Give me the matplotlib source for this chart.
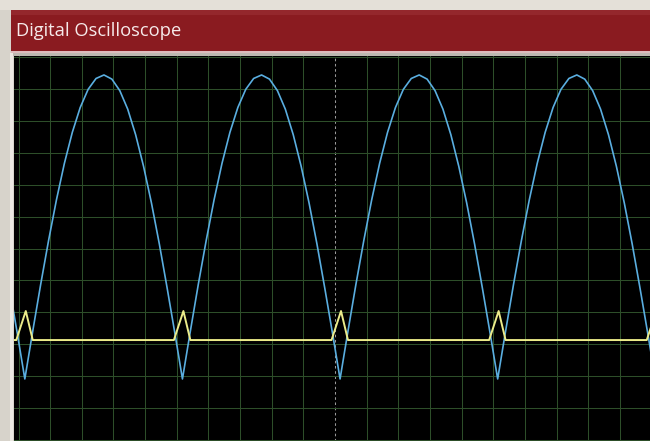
import numpy as np
import matplotlib
matplotlib.use('Agg')
import matplotlib.pyplot as plt
from matplotlib.patches import Rectangle

W, H = 650, 441

# screen units are scope divisions; 0 on x is the dashed centre line
TROUGH_T = [-14.78, -9.80, -4.82, 0.16, 5.14, 10.12]

# one cycle of the blue trace, offsets from each trough (div) and level (div)
BLUE_OFFSET = [0.0, 0.25, 0.5, 0.75, 1.0, 1.25, 1.5, 1.75, 2.0, 2.25,
               2.5, 2.75, 3.0, 3.25, 3.5, 3.75, 4.0, 4.25, 4.5, 4.75]
BLUE_LEVEL = [-1.09, 0.41, 1.87, 3.25, 4.53, 5.67, 6.64, 7.42, 7.99, 8.33,
              8.44, 8.31, 7.95, 7.37, 6.57, 5.58, 4.43, 3.14, 1.74, 0.29]

# yellow trace: flat baseline with a small bump at each trough
YELLOW_OFFSET = [-0.27, 0.03, 0.25]
YELLOW_LEVEL = [0.13, 1.04, 0.13]

TITLE = 'Digital Oscilloscope'

# build the traces from the per-cycle readings
blue_t, blue_v = [], []
yel_t, yel_v = [], []
for tr in TROUGH_T:
    blue_t += [tr + o for o in BLUE_OFFSET]
    blue_v += BLUE_LEVEL
    yel_t += [tr + o for o in YELLOW_OFFSET]
    yel_v += YELLOW_LEVEL

fig = plt.figure(figsize=(W / 100, H / 100), dpi=100)
fig.patch.set_facecolor('#d7d3cb')

# window chrome drawn in pixel coordinates
bg = fig.add_axes([0, 0, 1, 1])
bg.set_xlim(0, W)
bg.set_ylim(H, 0)
bg.axis('off')
bg.add_patch(Rectangle((0, 0), W, 10, color='#e4e0d8', lw=0))
bg.add_patch(Rectangle((11, 10), W - 11, 41, color='#8a1b20', lw=0))
bg.add_patch(Rectangle((11, 10), W - 11, 5, color='#94272c', lw=0))
bg.add_patch(Rectangle((11, 51), W - 11, 2, color='#dcbcbc', lw=0))
bg.add_patch(Rectangle((11, 53), W - 11, 3, color='#bdb8b0', lw=0))
bg.add_patch(Rectangle((10, 53), 3, H - 53, color='#ebe8e2', lw=0))
bg.text(16, 31, TITLE, color='#f6eaea', fontsize=13.2, family='Open Sans',
        va='center', ha='left')

# scope screen
l, r, t, b = 14, 650, 56, 441
ax = fig.add_axes([l / W, 1 - b / H, (r - l) / W, (b - t) / H])
ax.set_facecolor('black')
px_x, px_y = 31.65, 31.9
ax.set_xlim((l - 335) / px_x, (r - 335) / px_x)
ax.set_ylim((344.2 - b) / px_y, (344.2 - t) / px_y)

grid_c = '#2d4e29'
for k in range(-10, 10):
    if k == 0:
        ax.axvline(0, color='#9a9a9a', lw=0.75, dashes=(2.5, 2.5), zorder=1)
    else:
        ax.axvline(k, color=grid_c, lw=0.75, zorder=1)
for k in range(-3, 10):
    ax.axhline(k, color=grid_c, lw=0.75, zorder=1)

ax.plot(blue_t, blue_v, color='#5aaee0', lw=1.2, zorder=3)
ax.plot(yel_t, yel_v, color='#ecec8a', lw=1.4, zorder=4)

ax.set_xticks([])
ax.set_yticks([])
for s in ax.spines.values():
    s.set_visible(False)

fig.savefig('out.png', dpi=100, facecolor=fig.get_facecolor())
